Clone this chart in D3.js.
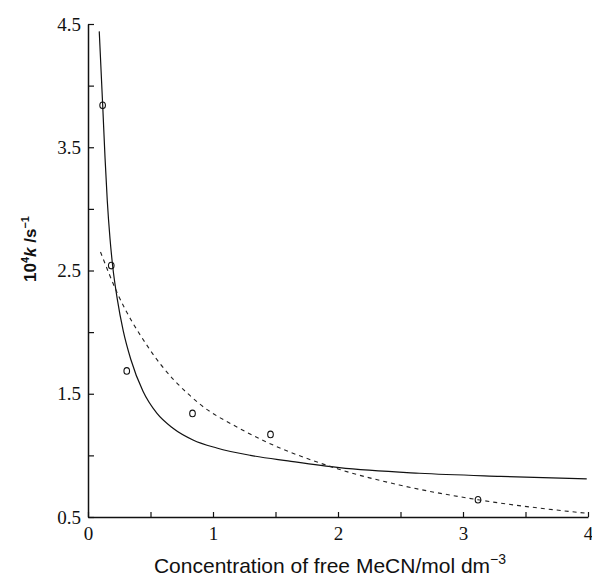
<!DOCTYPE html>
<html>
<head>
<meta charset="utf-8">
<script src="https://cdn.jsdelivr.net/npm/d3@7"></script>
<style>
  body { margin: 0; background: #fff; }
  .tick text { font-family: "Liberation Serif", serif; font-size: 19px; fill: #111; }
</style>
</head>
<body>
<div id="chart"></div>
<script>
// measured points
const pointX = [0.117, 0.186, 0.31, 0.836, 1.46, 3.12];
const pointY = [3.84, 2.54, 1.685, 1.34, 1.17, 0.64];

// solid fitted curve
const solidX = [0.090, 0.118, 0.136, 0.154, 0.176, 0.198, 0.234, 0.282, 0.342, 0.44, 0.552, 0.68, 0.84, 1.03, 1.30, 1.6, 2.01, 2.65, 3.3, 3.99];
const solidY = [4.44, 3.83, 3.42, 3.07, 2.76, 2.53, 2.27, 2.01, 1.78, 1.52, 1.34, 1.22, 1.125, 1.06, 1.00, 0.955, 0.90, 0.855, 0.83, 0.81];

// dashed fitted curve
const dashX = [0.10, 0.242, 0.48, 0.89, 1.21, 2.0, 2.49, 3.12, 3.99];
const dashY = [2.65, 2.30, 1.88, 1.42, 1.22, 0.89, 0.76, 0.64, 0.53];

const yTicks = [0.5, 1, 1.5, 2, 2.5, 3, 3.5, 4, 4.5];
const xTicks = [0, 0.5, 1, 1.5, 2, 2.5, 3, 3.5, 4];

const svg = d3.select("#chart")
    .append("svg")
    .attr("width", 592)
    .attr("height", 581);

const margin = {top: 24, left: 88, right: 4, bottom: 64};
const width = 592 - margin.left - margin.right;
const height = 581 - margin.top - margin.bottom;

const chart = svg.append("g").attr("transform", `translate(${margin.left},${margin.top})`);

const xScale = d3.scaleLinear().domain([0, 4]).range([0, width]);
const yScale = d3.scaleLinear().domain([0.5, 4.5]).range([height, 0]);

// axes, ticks pointing inward
const xAxis = d3.axisBottom(xScale)
    .tickValues(xTicks)
    .tickSizeInner(-5)
    .tickSizeOuter(0)
    .tickPadding(10)
    .tickFormat(d => Number.isInteger(d) ? d : "");
const yAxis = d3.axisLeft(yScale)
    .tickValues(yTicks)
    .tickSizeInner(-6)
    .tickSizeOuter(0)
    .tickPadding(7)
    .tickFormat(d => Number.isInteger(d) ? "" : d.toFixed(1));

chart.append("g")
    .attr("transform", `translate(0,${height})`)
    .call(xAxis)
    .call(g => g.select(".domain").attr("stroke", "#111").attr("stroke-width", 1.5));
chart.append("g")
    .call(yAxis)
    .call(g => g.select(".domain").attr("stroke", "#111").attr("stroke-width", 1.5));
chart.selectAll(".tick line").attr("stroke", "#111").attr("stroke-width", 1.2);

const line = d3.line()
    .x(d => xScale(d[0]))
    .y(d => yScale(d[1]))
    .curve(d3.curveMonotoneX);

chart.append("path")
    .datum(d3.zip(solidX, solidY))
    .attr("fill", "none")
    .attr("stroke", "#111")
    .attr("stroke-width", 1.2)
    .attr("d", line);

chart.append("path")
    .datum(d3.zip(dashX, dashY))
    .attr("fill", "none")
    .attr("stroke", "#222")
    .attr("stroke-width", 1.1)
    .attr("stroke-dasharray", "4,4")
    .attr("d", line);

chart.selectAll("ellipse.pt")
    .data(d3.zip(pointX, pointY))
    .join("ellipse")
    .attr("class", "pt")
    .attr("cx", d => xScale(d[0]))
    .attr("cy", d => yScale(d[1]))
    .attr("rx", 2.8)
    .attr("ry", 3.3)
    .attr("fill", "none")
    .attr("stroke", "#111")
    .attr("stroke-width", 1.1);

// axis titles
const yLab = svg.append("text")
    .attr("transform", "translate(36,249) rotate(-90)")
    .attr("text-anchor", "middle")
    .attr("font-family", "Liberation Sans, Arial, sans-serif")
    .attr("font-weight", "bold")
    .attr("font-size", 17)
    .attr("fill", "#111");
yLab.append("tspan").text("10");
yLab.append("tspan").attr("font-size", 11).attr("dy", -7).text("4");
yLab.append("tspan").attr("dy", 7).attr("font-style", "italic").text("k");
yLab.append("tspan").text(" /s");
yLab.append("tspan").attr("font-size", 11).attr("dy", -7).text("\u22121");

const xLab = svg.append("text")
    .attr("x", 330)
    .attr("y", 573)
    .attr("text-anchor", "middle")
    .attr("font-family", "Liberation Sans, Arial, sans-serif")
    .attr("font-size", 21)
    .attr("fill", "#111");
xLab.append("tspan").text("Concentration of free MeCN/mol dm");
xLab.append("tspan").attr("font-size", 14).attr("dy", -9).text("\u22123");
</script>
</body>
</html>
